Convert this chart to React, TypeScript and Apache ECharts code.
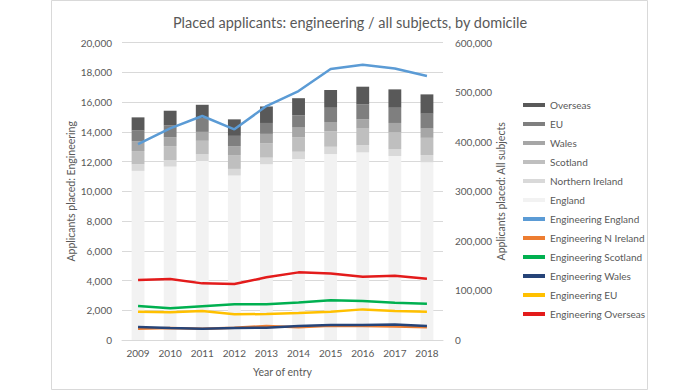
import React, { useEffect, useRef } from "react";
import * as echarts from "echarts";

const years = ["2009", "2010", "2011", "2012", "2013", "2014", "2015", "2016", "2017", "2018"];

// All subjects (right axis), stacked bars
const allEngland = [341300, 350000, 361300, 332000, 354700, 365300, 375300, 378700, 371300, 358700];
const allNIreland = [13400, 13300, 13400, 13300, 13300, 14700, 14700, 14600, 14000, 14600];
const allScotland = [26600, 28000, 27300, 28000, 29300, 29300, 31300, 33400, 34000, 34700];
const allWales = [20000, 18000, 18000, 18000, 18700, 19400, 18700, 18600, 18700, 18700];
const allEU = [21400, 24000, 26700, 20700, 22000, 24600, 28700, 30000, 30700, 30000];
const allOverseas = [26600, 29400, 28000, 33300, 33300, 34700, 35800, 35900, 37100, 39000];

// Engineering (left axis), lines
const engEngland = [13180, 14240, 15070, 14170, 15740, 16750, 18230, 18520, 18270, 17760];
const engNIreland = [760, 800, 760, 830, 940, 850, 960, 940, 900, 850];
const engScotland = [2290, 2130, 2265, 2400, 2400, 2530, 2670, 2620, 2510, 2440];
const engWales = [875, 810, 760, 810, 830, 940, 1010, 1010, 1050, 940];
const engEU = [1905, 1860, 1950, 1725, 1750, 1815, 1905, 2060, 1950, 1905];
const engOverseas = [4036, 4100, 3810, 3770, 4215, 4550, 4480, 4260, 4330, 4125];

const legendOrder = [
  "Overseas", "EU", "Wales", "Scotland", "Northern Ireland", "England",
  "Engineering England", "Engineering N Ireland", "Engineering Scotland",
  "Engineering Wales", "Engineering EU", "Engineering Overseas",
];

const FONT = "Lato";
const TXT = "#595959";

export default function App() {
  const ref = useRef<HTMLDivElement>(null);
  useEffect(() => {
    if (!ref.current) return;
    const chart = echarts.init(ref.current, undefined, { renderer: "svg" });
    const bar = (name: string, data: number[], color: string) => ({
      name, type: "bar", stack: "all", yAxisIndex: 1, data, barWidth: "40%",
      itemStyle: { color }, z: 1,
    });
    const line = (name: string, data: number[], color: string) => ({
      name, type: "line", yAxisIndex: 0, data, symbol: "none", showSymbol: false,
      lineStyle: { color, width: 2.5 }, itemStyle: { color }, z: 3,
    });
    chart.setOption({
      animation: false,
      textStyle: { fontFamily: FONT },
      title: {
        text: "Placed applicants: engineering / all subjects, by domicile",
        left: "center", top: 10,
        textStyle: { fontFamily: FONT, fontSize: 14.5, fontWeight: "normal", color: TXT },
      },
      grid: { left: 122, right: 257, top: 42.7, bottom: 51 },
      legend: {
        orient: "vertical", left: 523, top: 100, padding: 0,
        itemWidth: 22, itemHeight: 4, itemGap: 9, icon: "rect",
        textStyle: { fontFamily: FONT, fontSize: 10, color: TXT },
        data: legendOrder,
      },
      xAxis: {
        type: "category", data: years,
        axisLine: { lineStyle: { color: "#d9d9d9" } },
        axisTick: { show: false },
        axisLabel: { color: TXT, fontSize: 10, fontFamily: FONT, margin: 8 },
        name: "Year of entry", nameLocation: "middle", nameGap: 26,
        nameTextStyle: { color: TXT, fontSize: 10.5, fontFamily: FONT },
      },
      yAxis: [
        {
          type: "value", min: 0, max: 20000, interval: 2000,
          axisLine: { show: false }, axisTick: { show: false },
          splitLine: { lineStyle: { color: "#d9d9d9" } },
          axisLabel: {
            color: TXT, fontSize: 10, fontFamily: FONT, margin: 10,
            formatter: (v: number) => v.toLocaleString("en-US"),
          },
          name: "Applicants placed: Engineering", nameLocation: "middle", nameGap: 44,
          nameTextStyle: { color: TXT, fontSize: 10.5, fontFamily: FONT },
        },
        {
          type: "value", min: 0, max: 600000, interval: 100000, position: "right",
          axisLine: { show: false }, axisTick: { show: false },
          splitLine: { show: false },
          axisLabel: {
            color: TXT, fontSize: 10, fontFamily: FONT, margin: 12,
            formatter: (v: number) => v.toLocaleString("en-US"),
          },
          name: "Applicants placed: All subjects", nameLocation: "middle", nameGap: 47,
          nameTextStyle: { color: TXT, fontSize: 10.5, fontFamily: FONT },
        },
      ],
      graphic: [
        {
          type: "rect", shape: { x: 51.5, y: 0.5, width: 596, height: 389 },
          style: { fill: "none", stroke: "#d9d9d9", lineWidth: 1 }, silent: true, z: -1,
        },
      ],
      series: [
        bar("England", allEngland, "#F2F2F2"),
        bar("Northern Ireland", allNIreland, "#D9D9D9"),
        bar("Scotland", allScotland, "#BFBFBF"),
        bar("Wales", allWales, "#A6A6A6"),
        bar("EU", allEU, "#7F7F7F"),
        bar("Overseas", allOverseas, "#595959"),
        line("Engineering England", engEngland, "#5B9BD5"),
        line("Engineering N Ireland", engNIreland, "#ED7D31"),
        line("Engineering Scotland", engScotland, "#00B050"),
        line("Engineering Wales", engWales, "#264478"),
        line("Engineering EU", engEU, "#FFC000"),
        line("Engineering Overseas", engOverseas, "#E31B1B"),
      ],
    });
    return () => chart.dispose();
  }, []);
  return (
    <div
      ref={ref}
      style={{ position: "fixed", left: 0, top: 0, width: 700, height: 391, background: "#fff" }}
    />
  );
}
